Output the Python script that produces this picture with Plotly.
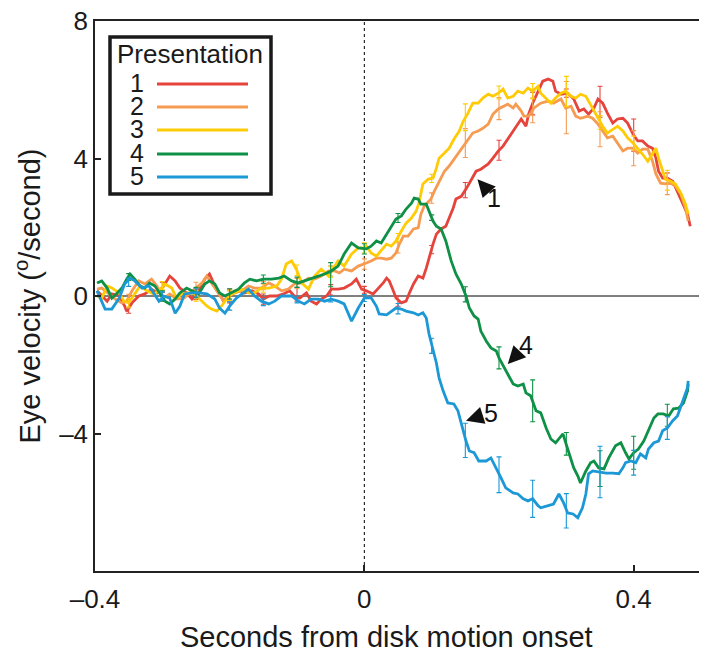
import plotly.graph_objects as go

# ---------------- data ----------------
x1 = [-0.397,-0.390,-0.382,-0.375,-0.364,-0.356,-0.353,-0.345,-0.335,-0.326,-0.316,-0.308,-0.298,-0.289,-0.281,-0.274,-0.264,-0.256,-0.246,-0.237,-0.230,-0.224,-0.216,-0.209,-0.201,-0.193,-0.185,-0.178,-0.167,-0.157,-0.150,-0.141,-0.130,-0.120,-0.111,-0.104,-0.096,-0.086,-0.079,-0.071,-0.064,-0.056,-0.049,-0.039,-0.030,-0.019,-0.012,-0.004,
      0.003,0.013,0.021,0.028,0.033,0.037,0.043,0.047,0.055,0.062,0.067,0.073,0.080,0.087,0.092,0.096,0.102,0.107,0.114,0.121,0.126,0.132,0.136,0.144,0.151,0.159,0.166,0.173,0.184,0.191,0.199,0.206,0.213,0.221,0.228,0.233,0.240,0.244,0.250,0.258,0.265,0.273,0.280,0.284,0.292,0.302,0.311,0.319,0.326,0.333,0.341,0.347,0.354,0.361,0.369,0.376,0.384,0.391,0.399,0.406,0.413,0.421,0.428,0.433,0.437,0.443,0.450,0.458,0.465,0.473,0.480,0.484]
y1 = [0.15,0.0,-0.15,0.06,0.0,-0.29,-0.44,-0.20,0.0,0.06,0.20,0.09,0.29,0.58,0.44,0.23,0.09,-0.09,0.15,0.49,0.64,0.38,0.09,-0.15,0.0,0.09,0.15,0.09,0.15,0.06,-0.09,0.0,0.0,0.06,0.15,0.0,-0.06,0.09,-0.15,-0.23,-0.09,0.0,0.20,0.20,0.23,0.35,0.49,0.20,
      0.15,0.06,0.23,0.38,0.52,0.44,0.15,-0.06,-0.20,-0.15,0.09,0.35,0.58,0.52,0.81,1.10,1.51,1.80,1.95,2.03,2.27,2.56,2.82,2.90,3.11,3.40,3.63,3.69,3.84,4.01,4.22,4.36,4.56,4.80,5.00,5.15,4.94,5.29,5.61,5.96,6.25,6.31,6.25,5.96,5.87,5.90,5.73,5.38,5.44,5.29,5.47,5.73,5.61,5.32,5.03,5.15,5.17,5.03,4.71,4.51,4.51,4.36,4.30,4.01,3.63,3.43,3.43,3.34,3.05,2.70,2.38,2.03]

x2 = [-0.397,-0.390,-0.379,-0.370,-0.360,-0.353,-0.345,-0.335,-0.326,-0.316,-0.308,-0.298,-0.289,-0.279,-0.268,-0.261,-0.252,-0.241,-0.234,-0.227,-0.216,-0.209,-0.201,-0.193,-0.182,-0.172,-0.163,-0.153,-0.142,-0.133,-0.123,-0.113,-0.104,-0.093,-0.083,-0.074,-0.064,-0.053,-0.044,-0.037,-0.030,-0.019,-0.009,0.0,
      0.003,0.010,0.018,0.025,0.033,0.040,0.047,0.052,0.058,0.065,0.073,0.080,0.084,0.089,0.095,0.099,0.104,0.111,0.119,0.126,0.133,0.139,0.147,0.154,0.161,0.169,0.176,0.184,0.191,0.199,0.206,0.213,0.221,0.225,0.233,0.237,0.244,0.252,0.262,0.273,0.281,0.292,0.299,0.307,0.314,0.321,0.332,0.339,0.347,0.354,0.361,0.369,0.376,0.384,0.391,0.399,0.406,0.413,0.421,0.428,0.433,0.440,0.447,0.455,0.462,0.470,0.477,0.481]
y2 = [0.20,0.23,0.06,-0.09,-0.20,-0.15,0.15,0.44,0.35,0.49,0.29,-0.06,0.06,-0.09,-0.06,0.06,0.20,0.38,0.58,0.38,0.06,-0.15,0.0,0.15,0.15,0.29,0.23,0.23,0.38,0.29,0.15,0.20,0.35,0.38,0.52,0.49,0.58,0.73,0.73,0.67,0.78,0.73,0.87,0.93,
      0.96,1.02,1.10,1.10,1.07,1.10,1.25,1.51,1.74,1.74,1.95,1.98,2.38,2.62,2.76,2.82,3.05,3.34,3.63,3.78,3.98,4.13,4.36,4.56,4.74,4.80,4.88,5.00,5.29,5.44,5.52,5.58,5.47,5.58,5.38,5.23,5.23,5.47,5.61,5.67,5.61,5.73,5.47,5.52,5.23,5.17,5.23,5.17,5.00,4.80,4.60,4.65,4.45,4.22,4.30,4.30,4.16,4.27,4.27,3.92,3.55,3.28,3.26,3.28,3.20,2.97,2.56,2.18]

x3 = [-0.397,-0.390,-0.382,-0.375,-0.364,-0.357,-0.350,-0.341,-0.333,-0.323,-0.313,-0.305,-0.296,-0.286,-0.279,-0.271,-0.261,-0.252,-0.241,-0.234,-0.227,-0.219,-0.212,-0.201,-0.193,-0.182,-0.172,-0.163,-0.153,-0.142,-0.130,-0.123,-0.116,-0.108,-0.101,-0.093,-0.083,-0.074,-0.064,-0.053,-0.046,-0.039,-0.030,-0.019,-0.009,0.0,
      0.003,0.010,0.018,0.025,0.033,0.040,0.047,0.055,0.062,0.070,0.077,0.081,0.087,0.095,0.102,0.107,0.111,0.119,0.126,0.133,0.141,0.147,0.154,0.161,0.169,0.176,0.184,0.191,0.199,0.206,0.213,0.221,0.228,0.236,0.243,0.250,0.258,0.262,0.270,0.277,0.284,0.292,0.299,0.307,0.314,0.321,0.329,0.333,0.339,0.347,0.354,0.361,0.369,0.376,0.384,0.391,0.399,0.406,0.413,0.421,0.428,0.433,0.437,0.443,0.447,0.455,0.462,0.470,0.477,0.481]
y3 = [0.0,-0.06,0.29,0.23,0.09,-0.15,-0.20,0.06,0.29,0.15,0.06,0.15,0.35,0.23,-0.06,0.06,0.09,0.06,-0.15,-0.29,-0.38,-0.44,-0.29,0.0,0.09,0.20,0.09,0.09,0.23,0.23,0.29,0.49,0.93,1.02,0.78,0.38,0.20,0.58,0.78,0.58,0.81,1.02,0.87,1.22,1.40,1.40,
      1.45,1.25,1.16,1.31,1.51,1.45,1.60,1.89,2.12,2.27,2.47,2.70,3.26,3.40,3.43,3.72,4.01,4.16,4.30,4.56,4.80,5.09,5.32,5.61,5.61,5.76,5.87,5.81,5.90,6.02,5.76,5.81,5.96,5.90,6.05,5.96,6.10,5.90,5.76,5.61,5.76,5.90,5.96,5.81,5.76,5.87,5.81,5.67,5.44,5.17,4.94,4.74,4.85,4.94,4.80,4.60,4.45,4.30,4.13,3.92,4.13,4.30,4.01,3.63,3.40,3.34,3.26,2.99,2.67,2.38]

x4 = [-0.397,-0.390,-0.382,-0.375,-0.367,-0.360,-0.353,-0.348,-0.341,-0.333,-0.326,-0.319,-0.311,-0.304,-0.296,-0.289,-0.281,-0.274,-0.264,-0.256,-0.246,-0.237,-0.230,-0.222,-0.215,-0.207,-0.197,-0.187,-0.178,-0.170,-0.160,-0.150,-0.138,-0.127,-0.119,-0.108,-0.098,-0.089,-0.079,-0.068,-0.059,-0.049,-0.039,-0.030,-0.019,-0.009,0.0,
      0.003,0.010,0.018,0.025,0.033,0.040,0.047,0.055,0.062,0.070,0.074,0.080,0.084,0.092,0.096,0.102,0.107,0.114,0.121,0.129,0.136,0.144,0.151,0.156,0.163,0.169,0.173,0.181,0.188,0.196,0.200,0.206,0.213,0.221,0.228,0.236,0.240,0.247,0.255,0.262,0.270,0.277,0.284,0.295,0.302,0.307,0.311,0.317,0.321,0.329,0.336,0.341,0.348,0.356,0.363,0.373,0.381,0.388,0.393,0.400,0.407,0.415,0.422,0.430,0.436,0.444,0.452,0.459,0.467,0.474,0.480,0.481]
y4 = [0.38,0.44,0.23,-0.06,0.09,0.23,0.49,0.64,0.49,0.29,0.23,0.38,0.29,0.09,-0.15,-0.23,-0.09,0.09,0.23,0.15,0.06,0.35,0.44,0.35,0.09,0.0,0.09,0.20,0.38,0.49,0.44,0.49,0.49,0.52,0.58,0.44,0.38,0.44,0.52,0.58,0.64,0.73,0.87,1.22,1.54,1.40,1.37,
      1.37,1.45,1.60,1.54,1.80,2.03,2.24,2.33,2.53,2.70,2.85,2.82,2.67,2.67,2.47,2.18,2.03,1.95,1.60,1.02,0.64,0.35,0.0,-0.35,-0.58,-0.67,-1.02,-1.31,-1.51,-1.60,-1.80,-2.03,-2.27,-2.56,-2.62,-2.56,-2.82,-2.90,-3.34,-3.40,-3.84,-4.16,-4.27,-4.01,-4.45,-4.74,-5.00,-5.23,-5.44,-5.09,-4.85,-4.80,-5.00,-5.03,-4.71,-4.36,-4.27,-4.56,-4.74,-4.56,-4.45,-4.22,-3.92,-3.55,-3.43,-3.43,-3.49,-3.28,-3.26,-3.11,-2.76,-2.56]

x5 = [-0.397,-0.385,-0.375,-0.364,-0.356,-0.348,-0.341,-0.330,-0.320,-0.313,-0.305,-0.298,-0.289,-0.281,-0.274,-0.267,-0.256,-0.246,-0.234,-0.222,-0.215,-0.207,-0.200,-0.190,-0.179,-0.172,-0.163,-0.153,-0.142,-0.133,-0.123,-0.108,-0.098,-0.089,-0.079,-0.068,-0.059,-0.049,-0.039,-0.030,-0.019,-0.009,0.0,
      0.010,0.018,0.022,0.033,0.040,0.047,0.055,0.062,0.073,0.080,0.087,0.092,0.096,0.102,0.107,0.111,0.117,0.124,0.133,0.139,0.144,0.151,0.156,0.163,0.170,0.181,0.188,0.196,0.203,0.210,0.221,0.228,0.236,0.243,0.250,0.258,0.262,0.273,0.281,0.289,0.296,0.302,0.310,0.317,0.324,0.329,0.333,0.339,0.348,0.359,0.369,0.378,0.384,0.388,0.396,0.403,0.410,0.418,0.422,0.430,0.437,0.443,0.450,0.458,0.465,0.470,0.474,0.480,0.481]
y5 = [0.15,-0.38,-0.38,-0.06,0.35,0.52,0.44,0.23,0.30,0.09,-0.15,0.0,-0.06,-0.50,-0.30,0.06,0.09,0.09,0.06,-0.09,-0.35,-0.50,-0.29,-0.06,0.09,0.20,0.0,-0.15,-0.23,-0.15,0.0,0.0,-0.15,-0.23,-0.09,-0.09,-0.15,-0.09,-0.15,-0.23,-0.73,-0.35,-0.06,
      -0.05,-0.30,-0.52,-0.55,-0.44,-0.35,-0.38,-0.44,-0.49,-0.55,-0.49,-0.64,-1.10,-1.60,-1.95,-2.38,-2.76,-3.11,-3.14,-3.34,-3.72,-4.22,-4.51,-4.56,-4.80,-4.80,-4.71,-5.00,-5.29,-5.58,-5.73,-5.76,-5.90,-5.96,-5.90,-6.10,-6.16,-6.10,-6.05,-5.76,-6.02,-6.31,-6.34,-6.45,-6.16,-5.76,-5.17,-5.09,-5.12,-5.15,-5.15,-5.17,-5.00,-4.85,-4.80,-4.85,-4.59,-4.71,-4.45,-4.27,-4.22,-3.92,-3.84,-3.63,-3.49,-3.20,-2.97,-2.67,-2.47]

# error bars every 0.05 s
xe = [-0.35,-0.30,-0.25,-0.20,-0.15,-0.10,-0.05,0.0,0.05,0.10,0.15,0.20,0.25,0.30,0.35,0.40,0.45]
ye1 = [-0.30,0.25,0.05,0.0,-0.09,0.05,0.18,0.18,-0.15,1.35,3.08,4.24,5.60,5.90,5.65,4.68,3.43]
ee1 = [0.20,0.15,0.15,0.20,0.15,0.20,0.15,0.10,0.15,0.12,0.22,0.29,0.33,0.12,0.45,0.47,0.15]
ye2 = [-0.15,0.0,0.25,0.0,0.30,0.36,0.73,0.93,1.40,2.85,4.45,5.45,5.40,5.48,4.85,4.30,3.27]
ee2 = [0.20,0.15,0.15,0.15,0.12,0.15,0.15,0.15,0.15,0.15,0.42,0.32,0.36,0.76,0.51,0.51,0.32]
ye3 = [-0.20,0.30,0.0,0.02,0.23,0.75,0.70,1.40,1.70,3.42,5.20,5.92,5.96,5.95,5.05,4.45,3.37]
ee3 = [0.12,0.12,0.15,0.15,0.12,0.15,0.15,0.15,0.12,0.12,0.39,0.19,0.22,0.44,0.20,0.20,0.29]
ye4 = [0.55,0.0,0.10,0.06,0.49,0.40,0.62,1.37,2.27,2.28,0.05,-1.80,-3.05,-4.30,-5.02,-4.56,-3.47]
ee4 = [0.10,0.15,0.15,0.15,0.12,0.15,0.35,0.15,0.13,0.08,0.22,0.32,0.61,0.33,0.52,0.48,0.32]
ye5 = [0.40,0.0,0.09,-0.29,-0.18,-0.10,-0.09,-0.06,-0.37,-1.45,-4.20,-5.20,-5.90,-6.25,-5.12,-4.85,-3.84]
ee5 = [0.12,0.12,0.12,0.12,0.10,0.10,0.08,0.10,0.15,0.22,0.50,0.52,0.54,0.50,0.75,0.36,0.33]

names = ["1", "2", "3", "4", "5"]
colors = ["#E5443D", "#F59B52", "#FFCB05", "#0E9146", "#1B98D5"]

x_ticks = [-0.4, 0, 0.4]
x_ticktext = ["\u20130.4", "0", "0.4"]
y_ticks = [-4, 0, 4, 8]
y_ticktext = ["\u20134", "0", "4", "8"]

FONT = "Liberation Sans, Arial, Helvetica, sans-serif"
INK = "#1a1a1a"

fig = go.Figure()
series = [(x1, y1, ye1, ee1), (x2, y2, ye2, ee2), (x3, y3, ye3, ee3),
          (x4, y4, ye4, ee4), (x5, y5, ye5, ee5)]
for (xs, ys, yb, eb), nm, col in zip(series, names, colors):
    fig.add_trace(go.Scatter(x=xe, y=yb, mode="markers", marker=dict(size=1, color=col, opacity=0),
                             error_y=dict(type="data", array=eb, visible=True, color=col,
                                          thickness=1.1, width=2.5),
                             showlegend=False, hoverinfo="skip"))
    fig.add_trace(go.Scatter(x=xs, y=ys, mode="lines", name=nm,
                             line=dict(color=col, width=2.8), showlegend=False))

# reference lines
fig.add_shape(type="line", xref="paper", yref="y", x0=0, x1=1, y0=0, y1=0,
              line=dict(color="black", width=1), layer="below")
fig.add_shape(type="line", xref="x", yref="paper", x0=0, x1=0, y0=0, y1=1,
              line=dict(color="black", width=1, dash="3px,3px"), layer="below")

# legend box (manual, number left of swatch); pixel positions relative to plot area
def px_x(p):
    return (p - 94) / 606.0
def px_y(p):
    return (570 - p) / 550.0

fig.add_shape(type="rect", xref="paper", yref="paper",
              x0=px_x(109), x1=px_x(270), y0=px_y(193), y1=px_y(36),
              line=dict(color=INK, width=3.5), fillcolor="white", layer="above")
fig.add_annotation(xref="paper", yref="paper", x=px_x(189), y=px_y(53), text="Presentation",
                   showarrow=False, font=dict(family=FONT, size=26, color=INK),
                   xanchor="center", yanchor="middle")
leg_y = [82, 105, 128, 152, 175]
for nm, col, ly in zip(names, colors, leg_y):
    fig.add_annotation(xref="paper", yref="paper", x=px_x(145), y=px_y(ly), text=nm,
                       showarrow=False, font=dict(family=FONT, size=25, color=INK),
                       xanchor="right", yanchor="middle", height=22, valign="middle")
    fig.add_shape(type="line", xref="paper", yref="paper",
                  x0=px_x(156), x1=px_x(247), y0=px_y(ly + 1), y1=px_y(ly + 1),
                  line=dict(color=col, width=2.8), layer="above")

# curve labels with arrowheads
labels = [("1", 0.168, 3.40, 17, 19), ("4", 0.213, -1.98, 18, -19), ("5", 0.151, -3.63, 25, -8)]
for t, ax_, ay_, dx, dy in labels:
    fig.add_annotation(x=ax_, y=ay_, text=t, showarrow=True, arrowhead=2, arrowsize=2.2,
                       arrowwidth=1.6, arrowcolor="#111", ax=dx, ay=dy,
                       font=dict(family=FONT, size=25, color="#111"))

# x-axis title (slightly left of centre, as in the reference)
fig.add_annotation(xref="paper", yref="paper", x=px_x(385), y=px_y(636),
                   text="Seconds from disk motion onset", showarrow=False,
                   font=dict(family=FONT, size=29, color=INK), xanchor="center", yanchor="middle")

fig.update_layout(
    width=707, height=652,
    margin=dict(l=87, r=14, t=13, b=89),
    paper_bgcolor="white", plot_bgcolor="white",
    font=dict(family=FONT, size=25, color=INK),
    showlegend=False,
)
fig.update_xaxes(range=[-0.4, 0.5], tickvals=x_ticks, ticktext=x_ticktext,
                 ticks="inside", ticklen=6, tickwidth=1.5, tickcolor="#222",
                 showline=True, linecolor="#222", linewidth=1.5, mirror=True,
                 showgrid=False, zeroline=False, tickfont=dict(size=26),
                 ticklabelstandoff=4, ticklabeloverflow="allow", automargin=False)
fig.update_yaxes(range=[-8, 8], tickvals=y_ticks, ticktext=y_ticktext,
                 ticks="inside", ticklen=6, tickwidth=1.5, tickcolor="#222",
                 showline=True, linecolor="#222", linewidth=1.5, mirror=True,
                 showgrid=False, zeroline=False, tickfont=dict(size=26),
                 ticklabeloverflow="allow", automargin=False,
                 title=dict(text="Eye velocity (<sup>o</sup>/second)", font=dict(size=29), standoff=10))

fig.write_html("out.html")
